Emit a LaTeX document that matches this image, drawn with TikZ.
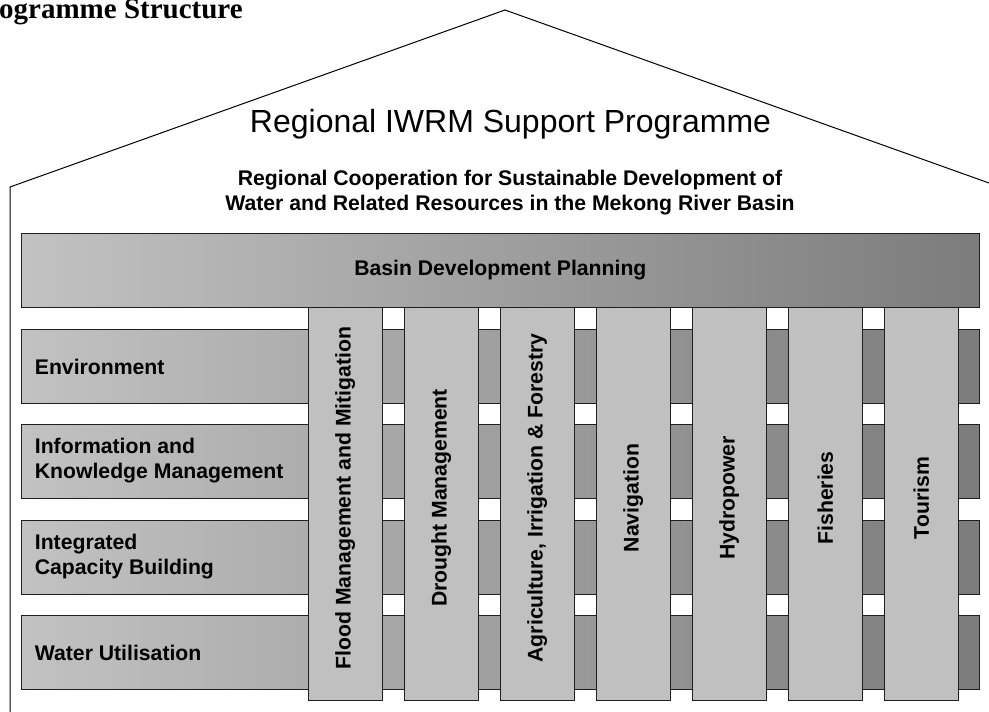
\documentclass[tikz,border=0pt]{standalone}
\usepackage{fontspec}
\setmainfont{Liberation Sans}
\newfontfamily\titleserif{Liberation Serif}
\definecolor{barlight}{RGB}{194,194,194}
\definecolor{bardark}{RGB}{124,124,124}
\definecolor{pillarfill}{RGB}{192,192,192}
\definecolor{edge}{RGB}{30,30,30}
\begin{document}
\begin{tikzpicture}[x=1pt,y=-1pt,
  bar/.style={draw=edge,line width=1pt,left color=barlight,right color=bardark,
    shading angle=90,rectangle,inner sep=0pt,anchor=north west},
  pillar/.style={draw=edge,line width=1pt,fill=pillarfill,rectangle,inner sep=0pt,
    anchor=north west,minimum width=74.5pt,minimum height=393pt},
  lbl/.style={font=\fontsize{21.2}{25}\selectfont\bfseries,inner sep=0pt},
  rowlbl/.style={lbl,anchor=west,align=left},
  vlbl/.style={lbl,rotate=90}]
\useasboundingbox (0,0) rectangle (989,712);
% title
\node[anchor=base west,inner sep=0pt,font=\titleserif\fontsize{29}{32}\selectfont\bfseries] (title) at (-1,18.8) {ogramme Structure};
% house
\coordinate (wallbot) at (10,712);
\coordinate (eaveL) at (10,187);
\coordinate (apex) at (505,10);
\coordinate (eaveR) at (989,183);
\draw[line width=1pt] (wallbot) -- (eaveL) -- (apex) -- (eaveR);
% headings
\node[anchor=base,inner sep=0pt,font=\fontsize{32}{36}\selectfont] (prog) at (510.5,132) {Regional IWRM Support Programme};
\node[anchor=base,inner sep=0pt,font=\fontsize{21.2}{25}\selectfont\bfseries,align=center] (coop) at (510,210)
  {Regional Cooperation for Sustainable Development of\\Water and Related Resources in the Mekong River Basin};
% basin bar
\node[bar,minimum width=958.3pt,minimum height=74pt] (basin) at (20.7,233) {};
\node[lbl] (basintxt) at (basin.center) {Basin Development Planning};
% rows
\foreach \i/\y in {1/329,2/424,3/519.5,4/615}{
  \node[bar,minimum width=958.3pt,minimum height=74pt] (row\i) at (20.7,\y) {};
}
\node[rowlbl] (env) at ([xshift=14pt]row1.west) {Environment};
\node[rowlbl] (ikm) at ([xshift=14pt,yshift=0.5pt]row2.west) {Information and\\Knowledge Management};
\node[rowlbl] (icb) at ([xshift=14pt,yshift=0.5pt]row3.west) {Integrated\\Capacity Building};
\node[rowlbl] (wu) at ([xshift=14pt]row4.west) {Water Utilisation};
% pillars
\foreach \i/\t in {0/{Flood Management and Mitigation},1/{Drought Management},2/{Agriculture, Irrigation \& Forestry},3/{Navigation},4/{Hydropower},5/{Fisheries},6/{Tourism}}{
  \node[pillar] (p\i) at ({307.5+96*\i},307) {};
  \node[vlbl] (pt\i) at ([yshift=6pt]p\i.center) {\t};
}
\end{tikzpicture}
\end{document}
